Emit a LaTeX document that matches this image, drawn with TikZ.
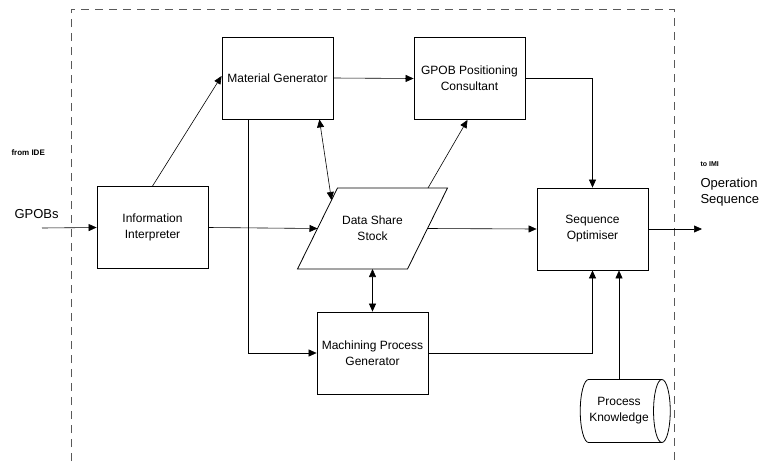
\documentclass[tikz,border=0pt]{standalone}
\usepackage{fontspec}
\setmainfont{Liberation Sans}
\usetikzlibrary{arrows.meta,shapes.geometric}

\tikzset{
  block/.style={draw, line width=0.8pt, minimum width=111pt, minimum height=82pt,
    align=center, font=\fontsize{12}{16}\selectfont},
  store/.style={align=center, font=\fontsize{12}{16}\selectfont},
  kbase/.style={draw, line width=0.8pt, cylinder, aspect=0.5, minimum width=63pt,
    minimum height=90pt, align=center, font=\fontsize{12}{16}\selectfont},
  flow/.style={line width=0.6pt, -{Triangle[length=8pt,width=7pt]}},
  bflow/.style={line width=0.6pt, {Triangle[length=8pt,width=7pt]}-{Triangle[length=8pt,width=7pt]}},
  small/.style={font=\bfseries\fontsize{8}{9}\selectfont, anchor=west},
  big/.style={font=\fontsize{13}{16}\selectfont, anchor=west, align=left}
}

\begin{document}
\begin{tikzpicture}[x=1pt,y=-1pt]
\useasboundingbox (0,0) rectangle (761,461);

% System boundary (open at the bottom)
\draw[gray!70!black, line width=0.7pt, dash pattern=on 8pt off 6pt]
  (71,461) -- (71,9) -- (674,9) -- (674,461);

% Modules
\node[block] (ii) at (152.5,227.5) {Information\\Interpreter};
\node[block] (mg) at (277.5,78) {Material Generator};
\node[block] (gp) at (469.5,78.5) {GPOB Positioning\\Consultant};
\node[store] (dss) at (372.5,228.5) {Data Share\\Stock};
\node[block] (so) at (592.5,229) {Sequence\\Optimiser};
\node[block] (mpg) at (372.5,353) {Machining Process\\Generator};
\node[kbase] (pk) at (619,411) {Process\\Knowledge};

% Slanted outline of the data store
\draw[line width=0.8pt] ([shift={(-35,-40.5)}]dss.center) -- ++(110,0)
  -- ++(-40,81) -- ++(-110,0) -- cycle;
\coordinate (dssw) at ([xshift=-55pt]dss.center);
\coordinate (dsse) at ([xshift=55pt]dss.center);
\coordinate (dsss) at ([yshift=-40.5pt]dss.center);
\coordinate (dssnw) at ([shift={(-41,-28.5)}]dss.center);
\coordinate (dssne) at ([shift={(55.5,-40.5)}]dss.center);

% Input and output
\coordinate (in) at (42,228);
\coordinate (out) at (702,229);
\node[small] (fide) at (8,153) {from IDE};
\node[big] (gpobs) at (11,214) {GPOBs};
\node[small, font=\bfseries\fontsize{7}{8}\selectfont] (timi) at (697,164) {to IMI};
\node[big] (opseq) at (697,192) {Operation\\Sequence};

% Connections
\draw[flow] (in) -- (ii.west);
\draw[flow] (so.east) -- (out);
\draw[flow] (ii.north) -- ([yshift=2pt]mg.west);
\draw[flow] (mg.east) -- (gp.west);
\draw[flow] (ii.east) -- (dssw);
\draw[bflow] ([xshift=-14pt]mg.south east) -- (dssnw);
\draw[flow] ([xshift=27pt]mg.south west) |- (mpg.west);
\draw[flow] (dssne) -- ([xshift=-2pt]gp.south);
\draw[flow] (gp.east) -| (so.north);
\draw[flow] (dsse) -- (so.west);
\draw[bflow] (dsss) -- (mpg.north);
\draw[flow] (mpg.east) -| (so.south);
\draw[flow] (pk.north) -- (pk.north |- so.south);

\end{tikzpicture}
\end{document}
